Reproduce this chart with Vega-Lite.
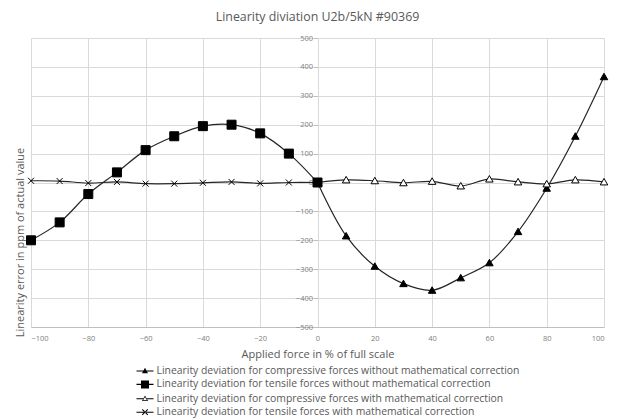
{
  "$schema": "https://vega.github.io/schema/vega-lite/v6.json",
  "width": 573,
  "height": 289,
  "autosize": "none",
  "padding": {"left": 31, "top": 38, "right": 13, "bottom": 93},
  "background": "white",
  "config": {"font": "Open Sans", "view": {"stroke": null}},
  "title": {"text": "Linearity diviation U2b/5kN #90369", "fontSize": 12.4, "fontWeight": "normal", "color": "#595959", "offset": 11},
  "data": {"values": [
    {"x": 0, "y": 0, "series": "Linearity deviation for compressive forces without mathematical correction"},
    {"x": 10, "y": -185, "series": "Linearity deviation for compressive forces without mathematical correction"},
    {"x": 20, "y": -290, "series": "Linearity deviation for compressive forces without mathematical correction"},
    {"x": 30, "y": -350, "series": "Linearity deviation for compressive forces without mathematical correction"},
    {"x": 40, "y": -373, "series": "Linearity deviation for compressive forces without mathematical correction"},
    {"x": 50, "y": -330, "series": "Linearity deviation for compressive forces without mathematical correction"},
    {"x": 60, "y": -278, "series": "Linearity deviation for compressive forces without mathematical correction"},
    {"x": 70, "y": -170, "series": "Linearity deviation for compressive forces without mathematical correction"},
    {"x": 80, "y": -20, "series": "Linearity deviation for compressive forces without mathematical correction"},
    {"x": 90, "y": 160, "series": "Linearity deviation for compressive forces without mathematical correction"},
    {"x": 100, "y": 366, "series": "Linearity deviation for compressive forces without mathematical correction"},
    {"x": 0, "y": 0, "series": "Linearity deviation for compressive forces with mathematical correction"},
    {"x": 10, "y": 9, "series": "Linearity deviation for compressive forces with mathematical correction"},
    {"x": 20, "y": 6, "series": "Linearity deviation for compressive forces with mathematical correction"},
    {"x": 30, "y": -1, "series": "Linearity deviation for compressive forces with mathematical correction"},
    {"x": 40, "y": 4, "series": "Linearity deviation for compressive forces with mathematical correction"},
    {"x": 50, "y": -12, "series": "Linearity deviation for compressive forces with mathematical correction"},
    {"x": 60, "y": 12, "series": "Linearity deviation for compressive forces with mathematical correction"},
    {"x": 70, "y": 2, "series": "Linearity deviation for compressive forces with mathematical correction"},
    {"x": 80, "y": -5, "series": "Linearity deviation for compressive forces with mathematical correction"},
    {"x": 90, "y": 9, "series": "Linearity deviation for compressive forces with mathematical correction"},
    {"x": 100, "y": 2, "series": "Linearity deviation for compressive forces with mathematical correction"},
    {"x": -100, "y": 6, "series": "Linearity deviation for tensile forces with mathematical correction"},
    {"x": -90, "y": 5, "series": "Linearity deviation for tensile forces with mathematical correction"},
    {"x": -80, "y": -2, "series": "Linearity deviation for tensile forces with mathematical correction"},
    {"x": -70, "y": 2, "series": "Linearity deviation for tensile forces with mathematical correction"},
    {"x": -60, "y": -4, "series": "Linearity deviation for tensile forces with mathematical correction"},
    {"x": -50, "y": -4, "series": "Linearity deviation for tensile forces with mathematical correction"},
    {"x": -40, "y": -1, "series": "Linearity deviation for tensile forces with mathematical correction"},
    {"x": -30, "y": 2, "series": "Linearity deviation for tensile forces with mathematical correction"},
    {"x": -20, "y": -3, "series": "Linearity deviation for tensile forces with mathematical correction"},
    {"x": -10, "y": 0, "series": "Linearity deviation for tensile forces with mathematical correction"},
    {"x": 0, "y": 0, "series": "Linearity deviation for tensile forces with mathematical correction"},
    {"x": -100, "y": -200, "series": "Linearity deviation for tensile forces without mathematical correction"},
    {"x": -90, "y": -138, "series": "Linearity deviation for tensile forces without mathematical correction"},
    {"x": -80, "y": -40, "series": "Linearity deviation for tensile forces without mathematical correction"},
    {"x": -70, "y": 35, "series": "Linearity deviation for tensile forces without mathematical correction"},
    {"x": -60, "y": 112, "series": "Linearity deviation for tensile forces without mathematical correction"},
    {"x": -50, "y": 160, "series": "Linearity deviation for tensile forces without mathematical correction"},
    {"x": -40, "y": 195, "series": "Linearity deviation for tensile forces without mathematical correction"},
    {"x": -30, "y": 200, "series": "Linearity deviation for tensile forces without mathematical correction"},
    {"x": -20, "y": 170, "series": "Linearity deviation for tensile forces without mathematical correction"},
    {"x": -10, "y": 100, "series": "Linearity deviation for tensile forces without mathematical correction"},
    {"x": 0, "y": 0, "series": "Linearity deviation for tensile forces without mathematical correction"}
  ]},
  "encoding": {
    "x": {"field": "x", "type": "quantitative", "scale": {"domain": [-100, 100], "nice": false},
      "axis": {"title": "Applied force in % of full scale", "values": [-100, -80, -60, -40, -20, 0, 20, 40, 60, 80, 100],
        "labelFontSize": 7.5, "labelColor": "#808080", "grid": true, "gridColor": "#d9d9d9", "domainColor": "#bfbfbf",
        "ticks": false, "labelPadding": 7, "titleFontSize": 11, "titleFontWeight": "normal", "titleColor": "#595959", "titlePadding": 7}},
    "y": {"field": "y", "type": "quantitative", "scale": {"domain": [-500, 500], "nice": false},
      "axis": {"title": "Linearity error in ppm of actual value", "values": [-500, -400, -300, -200, -100, 0, 100, 200, 300, 400, 500],
        "offset": -286.5, "labelFontSize": 7.5, "labelColor": "#808080", "grid": true, "gridColor": "#d9d9d9", "domain": false,
        "tickSize": 4, "tickColor": "#bfbfbf", "labelPadding": 1, "titleX": -297.5, "titleY": 204, "titleBaseline": "middle",
        "titleFontSize": 11, "titleFontWeight": "normal", "titleColor": "#595959"}}
  },
  "layer": [
    {
      "mark": {"type": "line", "interpolate": "catmull-rom", "color": "#262626", "strokeWidth": 1.2},
      "encoding": {"detail": {"field": "series", "type": "nominal"}}
    },
    {
      "mark": {"type": "point", "filled": true, "stroke": "black", "strokeWidth": 1, "opacity": 1, "size": 100},
      "encoding": {
        "shape": {"field": "series", "type": "nominal", "legend": null,
          "scale": {"domain": [
            "Linearity deviation for compressive forces without mathematical correction",
            "Linearity deviation for tensile forces without mathematical correction",
            "Linearity deviation for compressive forces with mathematical correction",
            "Linearity deviation for tensile forces with mathematical correction"],
            "range": ["M0,-0.7L0.75,0.6L-0.75,0.6Z", "M-0.9,-0.9H0.9V0.9H-0.9Z", "M0,-0.7L0.75,0.6L-0.75,0.6Z", "M-0.6,-0.6L0.6,0.6M-0.6,0.6L0.6,-0.6"]}},
        "fill": {"field": "series", "type": "nominal", "legend": null,
          "scale": {"domain": [
            "Linearity deviation for compressive forces without mathematical correction",
            "Linearity deviation for tensile forces without mathematical correction",
            "Linearity deviation for compressive forces with mathematical correction",
            "Linearity deviation for tensile forces with mathematical correction"],
            "range": ["black", "black", "white", "white"]}}
      }
    },
    {
      "transform": [{"filter": "datum.x > 1000"}],
      "mark": {"type": "point", "filled": true, "color": "black", "opacity": 1, "size": 100},
      "encoding": {
        "shape": {"field": "series", "type": "nominal",
          "legend": {"title": null, "orient": "none", "legendX": 108, "legendY": 327, "direction": "vertical",
            "labelFontSize": 10.4, "labelColor": "#595959", "symbolSize": 100, "rowPadding": 0.4, "labelOffset": 5.5, "labelLimit": 500},
          "scale": {"domain": [
            "Linearity deviation for compressive forces without mathematical correction",
            "Linearity deviation for tensile forces without mathematical correction",
            "Linearity deviation for compressive forces with mathematical correction",
            "Linearity deviation for tensile forces with mathematical correction"],
            "range": [
              "M-1.7,-0.11H1.7V0.11H-1.7ZM0,-0.65L0.6,0.45L-0.6,0.45Z",
              "M-1.7,-0.11H1.7V0.11H-1.7ZM-0.8,-0.8H0.8V0.8H-0.8Z",
              "M-1.7,-0.11H-0.36V0.11H-1.7ZM0.36,-0.11H1.7V0.11H0.36ZM0,-0.65L0.6,0.45L-0.6,0.45ZM0,-0.37L-0.38,0.28L0.38,0.28Z",
              "M-1.7,-0.11H1.7V0.11H-1.7ZM-0.62,-0.48L0.48,0.62L0.62,0.48L-0.48,-0.62ZM-0.62,0.48L0.48,-0.62L0.62,-0.48L-0.48,0.62Z"]}}
      }
    }
  ],
  "resolve": {"scale": {"shape": "independent"}, "legend": {"shape": "independent"}}
}
